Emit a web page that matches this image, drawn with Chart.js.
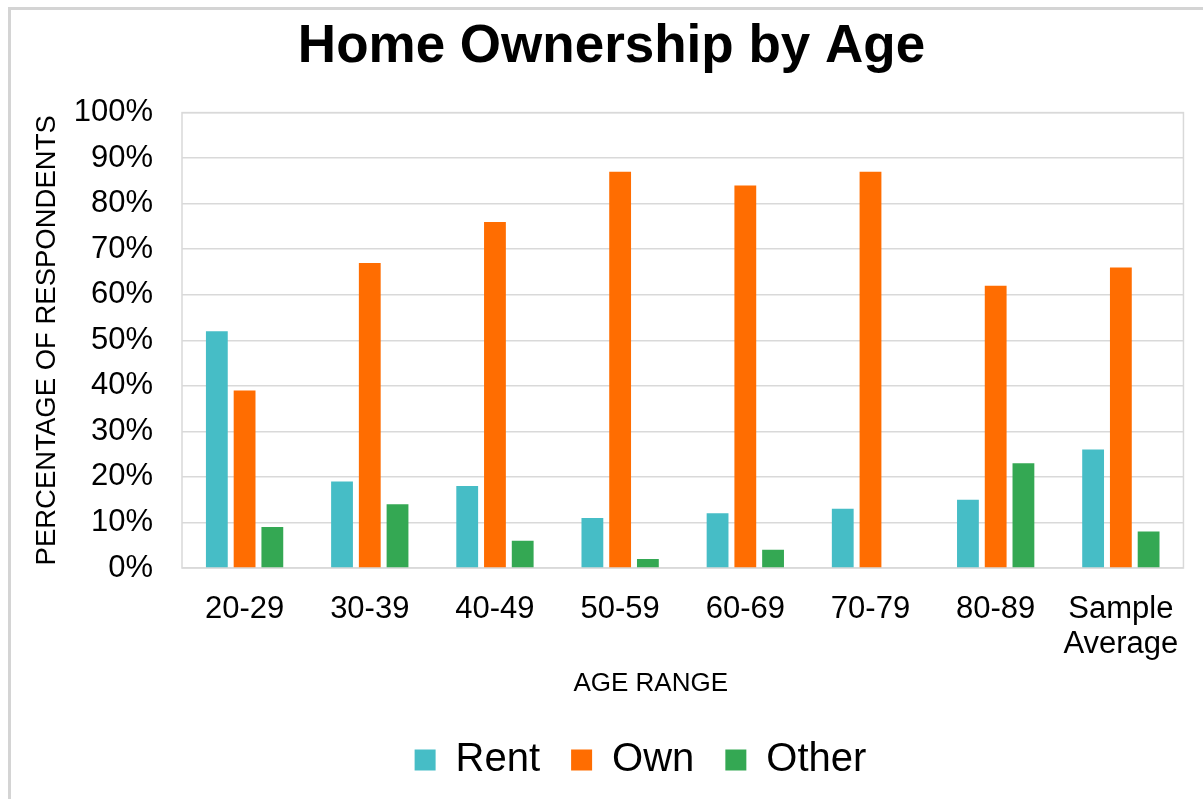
<!DOCTYPE html>
<html>
<head>
<meta charset="utf-8">
<title>Home Ownership by Age</title>
<script src="https://cdn.jsdelivr.net/npm/chart.js@4.4.1/dist/chart.umd.min.js"></script>
<style>
    html, body { margin: 0; padding: 0; background: #fff; overflow: hidden; }
    #wrap { position: relative; width: 1203px; height: 799px; }
    #frame {
        position: absolute; left: 8px; top: 7px; right: -10px; bottom: -10px;
        border-left: 3px solid #d4d4d4; border-top: 3px solid #d4d4d4;
        pointer-events: none;
    }
</style>
</head>
<body>
<div id="wrap">
    <canvas id="chart" width="1203" height="799"></canvas>
    <div id="frame"></div>
</div>
<script>
// Data
const ageRanges = ['20-29', '30-39', '40-49', '50-59', '60-69', '70-79', '80-89', ['Sample', 'Average']];
const rent  = [52, 19, 18, 11, 12, 13, 15, 26];
const own   = [39, 67, 76, 87, 84, 87, 62, 66];
const other = [9, 14, 6, 2, 4, 0, 23, 8];
const xTitle = 'AGE RANGE';

const FONT = "'Liberation Sans', Arial, Helvetica, sans-serif";
const LEGEND_SHIFT = 29;

// light gray frame round the plot area
const plotFrame = {
    id: 'plotFrame',
    beforeDatasetsDraw(chart) {
        const { ctx, chartArea: a } = chart;
        ctx.save();
        ctx.strokeStyle = '#d9d9d9';
        ctx.lineWidth = 1.5;
        ctx.strokeRect(a.left, a.top, a.right - a.left, a.bottom - a.top);
        ctx.restore();
    }
};

// legend sits a bit right of the canvas centre in the original
const legendShift = {
    id: 'legendShift',
    afterLayout(chart) {
        chart.legend.left += LEGEND_SHIFT;
        chart.legend.right += LEGEND_SHIFT;
    }
};

// x axis title is left of the plot centre, so place it by hand
const xAxisTitle = {
    id: 'xAxisTitle',
    afterDraw(chart) {
        const ctx = chart.ctx;
        const xs = chart.scales.x;
        ctx.save();
        ctx.fillStyle = '#000';
        ctx.font = '26px ' + FONT;
        ctx.textAlign = 'center';
        ctx.textBaseline = 'middle';
        ctx.fillText(xTitle, xs.left + (xs.right - xs.left) * 0.468, xs.bottom - 25);
        ctx.restore();
    }
};

new Chart(document.getElementById('chart'), {
    type: 'bar',
    data: {
        labels: ageRanges,
        datasets: [
            { label: 'Rent',  data: rent,  backgroundColor: '#46BDC6' },
            { label: 'Own',   data: own,   backgroundColor: '#FF6D01' },
            { label: 'Other', data: other, backgroundColor: '#34A853' }
        ]
    },
    options: {
        responsive: false,
        animation: false,
        layout: { padding: { left: 31, right: 11, top: 0, bottom: 9 } },
        datasets: { bar: { categoryPercentage: 0.665, barPercentage: 0.786 } },
        plugins: {
            title: {
                display: true,
                text: 'Home Ownership by Age',
                color: '#000',
                font: { family: FONT, size: 53, weight: 'bold', lineHeight: 1.2 },
                padding: { top: 16, bottom: 33 }
            },
            legend: {
                position: 'bottom',
                labels: {
                    color: '#000',
                    font: { family: FONT, size: 40 },
                    boxWidth: 21,
                    boxHeight: 21,
                    padding: 31
                }
            },
            tooltip: { enabled: false }
        },
        scales: {
            x: {
                grid: { display: false, drawTicks: false },
                border: { display: false },
                ticks: {
                    color: '#000',
                    font: { family: FONT, size: 31, lineHeight: 1.13 },
                    padding: 24,
                    maxRotation: 0,
                    autoSkip: false
                },
                afterFit(scale) { scale.height = 141; }
            },
            y: {
                min: 0,
                max: 100,
                ticks: {
                    stepSize: 10,
                    color: '#000',
                    font: { family: FONT, size: 31 },
                    padding: 29,
                    callback: v => v + '%'
                },
                grid: { color: '#d9d9d9', lineWidth: 1.5, drawTicks: false },
                border: { display: false },
                title: {
                    display: true,
                    text: 'PERCENTAGE OF RESPONDENTS',
                    color: '#000',
                    font: { family: FONT, size: 27.5, lineHeight: 1.2 },
                    padding: { top: 0, bottom: 0 }
                },
                afterFit(scale) { scale.width = 151; }
            }
        }
    },
    plugins: [plotFrame, legendShift, xAxisTitle]
});
</script>
</body>
</html>
